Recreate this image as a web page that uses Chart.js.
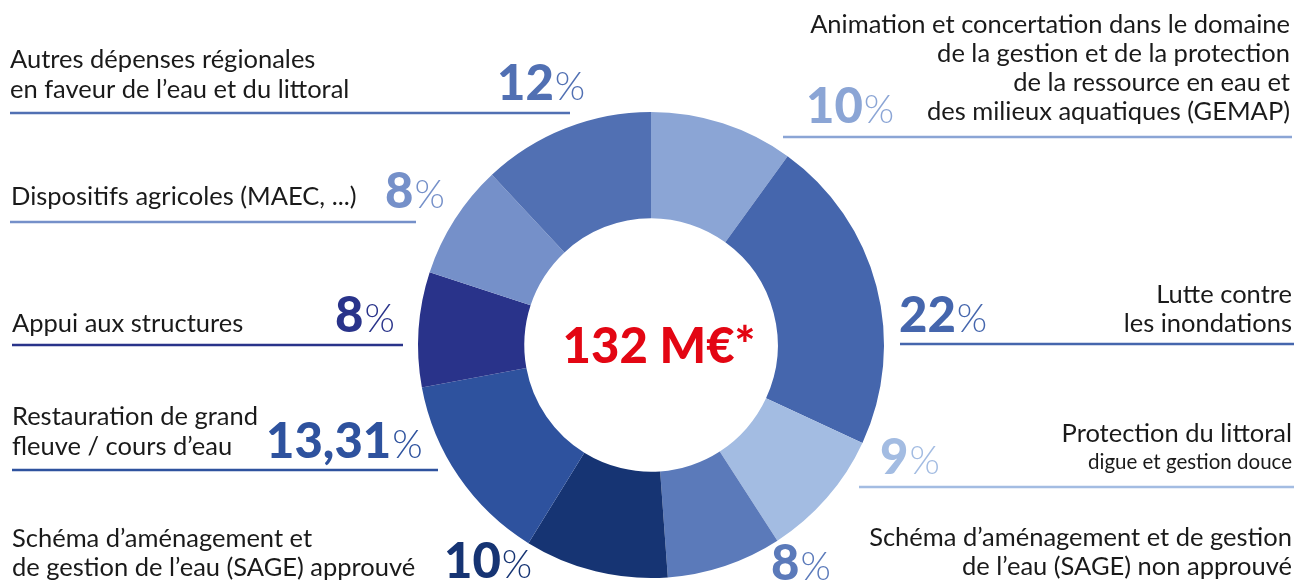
<!DOCTYPE html>
<html>
<head>
<meta charset="utf-8">
<script src="https://cdn.jsdelivr.net/npm/chart.js@4.4.0/dist/chart.umd.min.js"></script>
<style>
  html, body { margin: 0; padding: 0; background: #fff; }
  #wrap { width: 1297px; height: 584px; position: relative; }
</style>
</head>
<body>
<div id="wrap"><canvas id="donut"></canvas></div>
<script>
// categories, clockwise from 12 o'clock
const categories = [
    ["Animation et concertation dans le domaine", "de la gestion et de la protection", "de la ressource en eau et", "des milieux aquatiques (GEMAP)"],
    ["Lutte contre", "les inondations"],
    ["Protection du littoral", "digue et gestion douce"],
    ["Schéma d’aménagement et de gestion", "de l’eau (SAGE) non approuvé"],
    ["Schéma d’aménagement et", "de gestion de l’eau (SAGE) approuvé"],
    ["Restauration de grand", "fleuve / cours d’eau"],
    ["Appui aux structures"],
    ["Dispositifs agricoles (MAEC, ...)"],
    ["Autres dépenses régionales", "en faveur de l’eau et du littoral"]
];
const shares = [10, 22, 9, 8, 10, 13.31, 8, 8, 12];
const totalLabel = "132 M€*";

const colors = ["#8ba5d5", "#4566ad", "#a3bce2", "#5b7aba", "#163473", "#2e529e", "#29338a", "#7590c9", "#5170b3"];

// label layout: side, text anchor x, baselines, percent x/baseline, rule
const layout = [
    { side: "right", x: 1290, base: [33, 62, 91, 120], px: 806, pb: 123, rule: [783, 1292, 137] },
    { side: "right", x: 1292, base: [303, 332], px: 899, pb: 332, rule: [900, 1294, 344] },
    { side: "right", x: 1292, base: [442, 469], small: 1, px: 880, pb: 474, rule: [859, 1294, 487] },
    { side: "right", x: 1292, base: [546, 575], px: 771, pb: 580 },
    { side: "left", x: 12, base: [547, 576], px: 444, pb: 578 },
    { side: "left", x: 12, base: [425, 455], px: 266, pb: 458, rule: [12, 438, 470] },
    { side: "left", x: 12, base: [332], px: 335, pb: 332, rule: [12, 403, 345] },
    { side: "left", x: 11, base: [205], px: 385, pb: 208, rule: [10, 416, 222] },
    { side: "left", x: 10, base: [68, 98], px: 497, pb: 100, rule: [10, 570, 113] }
];

const FONT = "Lato, 'Noto Sans', sans-serif";

const labelPlugin = {
    id: "sideLabels",
    afterDraw(chart) {
        const ctx = chart.ctx;
        const meta = chart.getDatasetMeta(0);
        ctx.save();
        ctx.textBaseline = "alphabetic";
        categories.forEach((lines, i) => {
            const l = layout[i];
            ctx.fillStyle = "#1a1a1a";
            ctx.textAlign = l.side === "right" ? "right" : "left";
            lines.forEach((t, k) => {
                ctx.font = (l.small === k ? "20.5px " : "25.5px ") + FONT;
                ctx.fillText(t, l.x, l.base[k]);
            });
            // percentage
            const num = String(shares[i]).replace(".", ",");
            ctx.textAlign = "left";
            ctx.fillStyle = colors[i];
            ctx.font = "900 49px " + FONT;
            ctx.fillText(num, l.px, l.pb);
            const w = ctx.measureText(num).width;
            ctx.font = "300 39px " + FONT;
            ctx.fillText("%", l.px + w + 1, l.pb);
            if (l.rule) {
                ctx.strokeStyle = colors[i];
                ctx.lineWidth = 2.5;
                ctx.beginPath();
                ctx.moveTo(l.rule[0], l.rule[2]);
                ctx.lineTo(l.rule[1], l.rule[2]);
                ctx.stroke();
            }
        });
        // centre total
        const arc = meta.data[0];
        ctx.fillStyle = "#e30613";
        ctx.textAlign = "center";
        ctx.font = "900 49px " + FONT;
        ctx.fillText(totalLabel, arc.x + 8, arc.y + 18);
        ctx.restore();
    }
};

new Chart(document.getElementById("donut"), {
    type: "doughnut",
    data: {
        labels: categories.map(c => c.join(" ")),
        datasets: [{
            data: shares,
            backgroundColor: colors,
            borderWidth: 0
        }]
    },
    options: {
        responsive: true,
        maintainAspectRatio: false,
        animation: false,
        cutout: "54.4%",
        layout: { padding: { top: 112, bottom: 6, left: 5, right: 0 } },
        plugins: {
            legend: { display: false },
            tooltip: { enabled: false }
        }
    },
    plugins: [labelPlugin]
});
</script>
</body>
</html>
